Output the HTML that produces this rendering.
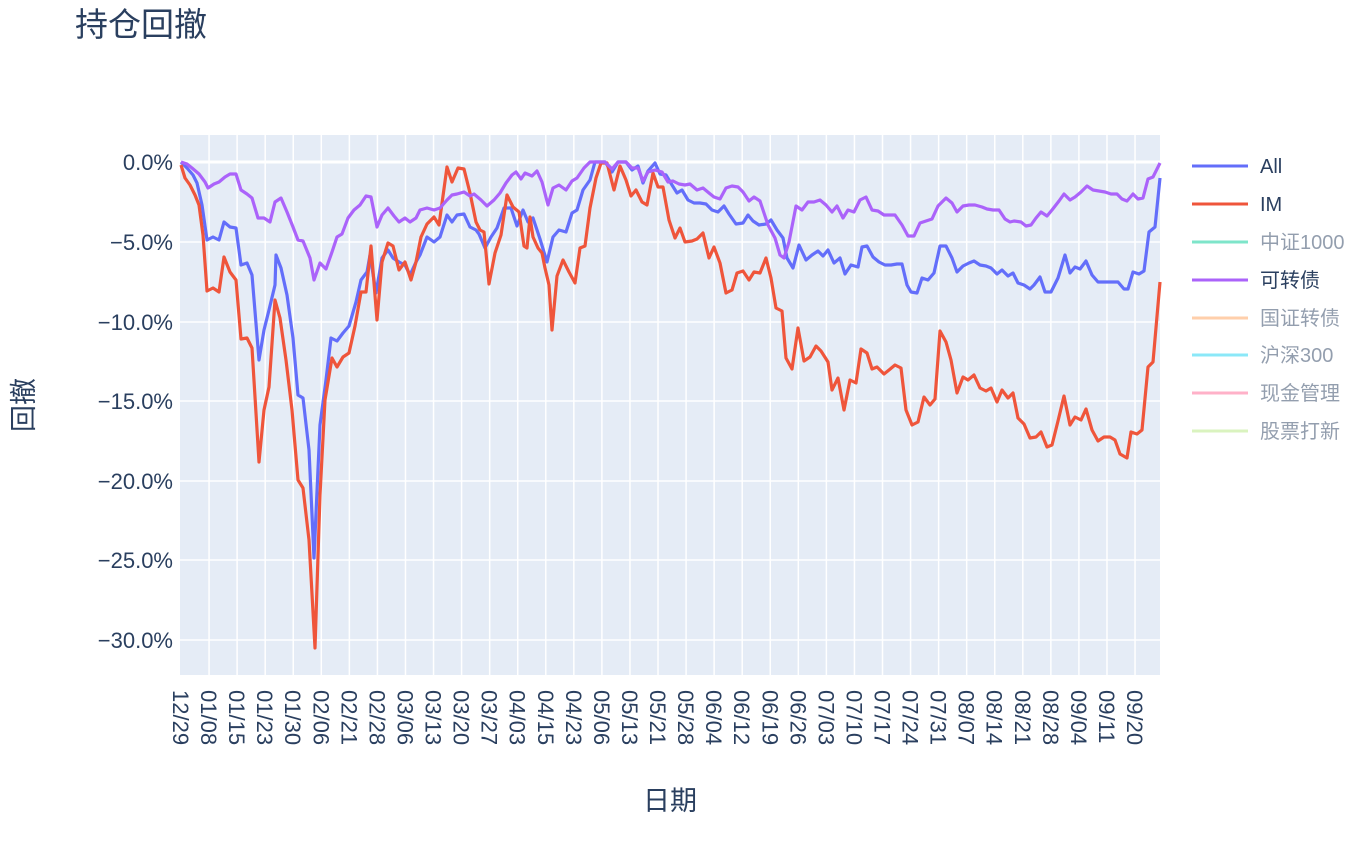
<!DOCTYPE html>
<html><head><meta charset="utf-8"><style>
html,body{margin:0;padding:0;background:#fff;}
svg{display:block;font-family:"Liberation Sans","Noto Sans CJK SC",sans-serif;}
</style></head><body>
<svg width="1372" height="848" viewBox="0 0 1372 848" xmlns="http://www.w3.org/2000/svg">
<rect width="1372" height="848" fill="#fff"/>
<rect x="180" y="135" width="980" height="540" fill="#e5ecf6"/>
<g stroke="#fff" stroke-width="1.5" id="vg"></g>
<g stroke="#fff" stroke-width="1.5">
<line x1="180" x2="1160" y1="242" y2="242"/><line x1="180" x2="1160" y1="322" y2="322"/>
<line x1="180" x2="1160" y1="401" y2="401"/><line x1="180" x2="1160" y1="481" y2="481"/>
<line x1="180" x2="1160" y1="560" y2="560"/><line x1="180" x2="1160" y1="640" y2="640"/>
</g>
<line x1="180" x2="1160" y1="162" y2="162" stroke="#fff" stroke-width="3"/>
<g id="series" fill="none" stroke-width="3.2" stroke-linejoin="round">
<polyline stroke="#636efa" points="181,162 187,168 193,175 197,183 202,205 207,240 213,237 219,240 224,222 230,227 236,228 241,265 247,263 252,275 259,360 264,330 269,310 275,285 276,255 281,268 287,295 293,338 298,395 303,398 309,450 314,558 320,425 326,380 331,338 337,341 343,333 349,326 356,302 361,280 367,272 370,255 376,293 382,258 388,250 393,258 399,262 405,265 410,275 416,262 420,255 427,237 434,242 440,237 447,215 452,222 457,215 464,214 470,227 476,230 479,234 485,248 491,237 497,228 504,208 511,208 517,226 523,210 528,222 533,218 540,239 547,262 553,237 559,230 566,232 572,213 577,210 583,190 590,180 595,162 605,162 612,172 618,162 626,162 632,170 638,166 643,183 648,171 655,163 660,174 666,175 672,185 677,193 682,190 688,200 694,203 700,203 706,204 712,210 718,212 724,206 729,214 736,224 743,223 748,215 753,221 759,225 766,224 771,220 777,230 783,238 787,258 793,268 799,245 806,260 812,255 818,251 823,256 828,250 834,263 840,258 845,274 851,265 858,267 862,247 867,246 873,257 879,262 885,265 891,265 897,264 902,264 907,285 911,292 917,293 922,278 928,280 934,273 940,246 946,246 952,258 957,272 963,266 969,263 974,261 980,265 986,266 991,268 997,274 1002,270 1008,276 1013,273 1018,283 1024,285 1030,289 1034,285 1040,277 1045,292 1051,292 1058,278 1065,255 1070,273 1075,267 1080,269 1086,261 1092,275 1098,282 1104,282 1112,282 1118,282 1124,289 1128,289 1133,272 1139,274 1144,271 1149,232 1155,227 1160,178"/>
<polyline stroke="#EF553B" points="181,165 185,178 190,185 195,195 199,205 203,235 207,291 213,288 219,292 224,257 230,272 236,280 241,339 247,338 252,348 259,462 264,410 269,387 275,300 280,318 286,360 292,410 298,480 303,488 309,540 315,648 320,495 325,400 332,358 337,367 343,357 349,353 355,326 361,292 366,292 371,246 377,320 382,262 388,243 393,246 399,270 405,262 411,280 416,262 421,237 427,224 434,217 439,225 447,167 452,182 458,168 464,169 470,193 476,222 480,230 484,232 489,284 495,253 501,235 507,195 513,207 519,212 524,246 527,248 530,217 533,237 538,248 542,253 545,268 549,285 552,330 557,276 563,260 569,272 575,283 580,248 585,246 590,208 596,178 601,163 607,163 614,190 620,166 626,180 631,196 636,190 642,202 647,205 653,173 658,187 663,187 669,220 675,238 680,228 685,242 692,241 697,239 703,233 709,258 714,247 720,263 726,293 732,290 737,273 743,271 749,280 754,272 760,273 766,258 771,278 776,308 782,311 786,358 792,369 798,328 804,361 810,357 816,346 821,351 828,362 832,390 838,378 844,410 850,380 856,383 861,349 867,353 872,369 877,367 884,374 889,370 895,365 901,368 906,410 912,425 918,422 924,397 930,405 935,399 940,331 946,342 951,360 957,393 963,377 968,380 974,375 980,388 986,391 991,388 997,402 1002,390 1008,398 1013,393 1018,418 1024,424 1030,438 1036,437 1041,432 1047,447 1052,445 1058,421 1064,396 1070,425 1075,417 1081,420 1086,409 1092,430 1098,441 1104,437 1110,437 1115,440 1120,454 1127,458 1131,432 1137,434 1142,430 1148,367 1153,362 1160,282"/>
<polyline stroke="#ab63fa" points="181,162 187,164 192,168 199,174 205,182 208,188 214,184 219,182 225,177 230,174 236,174 241,190 247,194 252,198 258,218 264,218 270,222 275,202 281,198 287,212 293,227 298,240 303,241 310,258 314,280 320,263 326,269 332,252 337,237 342,234 348,218 354,210 360,205 366,196 371,197 377,227 382,215 388,208 394,216 399,222 405,218 410,222 416,218 420,210 427,208 434,210 440,208 447,200 452,195 457,194 464,192 470,196 474,194 481,200 487,206 494,200 500,193 506,183 512,175 516,172 521,179 525,173 532,176 537,171 542,182 548,205 553,188 559,185 566,190 572,181 577,178 584,168 590,162 605,162 612,169 618,162 626,162 632,168 638,168 643,181 648,172 655,170 662,172 668,182 673,181 679,184 685,185 690,184 697,190 703,188 709,193 714,197 720,199 726,188 732,186 738,187 743,192 749,201 754,197 760,201 768,225 775,238 780,255 784,258 789,242 796,206 802,210 808,202 814,202 820,200 826,205 832,212 837,206 843,218 848,210 854,212 860,200 866,197 872,210 878,211 884,215 890,215 895,215 902,225 908,236 914,236 920,223 926,221 932,219 938,206 946,198 952,203 957,212 963,206 969,205 975,205 982,207 987,209 993,210 999,210 1005,219 1010,222 1014,221 1021,222 1026,226 1031,225 1036,218 1041,212 1047,216 1052,210 1059,201 1064,194 1070,200 1075,197 1081,192 1087,186 1093,190 1099,191 1105,192 1111,194 1117,194 1122,199 1127,201 1133,194 1138,199 1143,198 1148,179 1153,177 1160,163"/>
</g>
<g fill="#2a3f5f" font-size="22" text-anchor="end">
<text x="173" y="170">0.0%</text><text x="173" y="250">−5.0%</text>
<text x="173" y="330">−10.0%</text><text x="173" y="409">−15.0%</text>
<text x="173" y="489">−20.0%</text><text x="173" y="568">−25.0%</text>
<text x="173" y="648">−30.0%</text>
</g>
<g id="xt" fill="#2a3f5f" font-size="22"></g>
<text x="75" y="36" font-size="33" fill="#2a3f5f">持仓回撤</text>
<text x="670" y="810" font-size="27" fill="#2a3f5f" text-anchor="middle">日期</text>
<text transform="translate(33,405) rotate(-90)" font-size="27" fill="#2a3f5f" text-anchor="middle">回撤</text>
<g font-size="20" stroke-width="3">
<line x1="1192" x2="1248" y1="166" y2="166" stroke="#636efa"/><text x="1260" y="173" fill="#2a3f5f">All</text>
<line x1="1192" x2="1248" y1="204" y2="204" stroke="#EF553B"/><text x="1260" y="211" fill="#2a3f5f">IM</text>
<g opacity="0.5">
<line x1="1192" x2="1248" y1="242" y2="242" stroke="#00cc96"/><text x="1260" y="249" fill="#2a3f5f">中证1000</text>
</g>
<line x1="1192" x2="1248" y1="280" y2="280" stroke="#ab63fa"/><text x="1260" y="287" fill="#2a3f5f">可转债</text>
<g opacity="0.5">
<line x1="1192" x2="1248" y1="318" y2="318" stroke="#FFA15A"/><text x="1260" y="325" fill="#2a3f5f">国证转债</text>
<line x1="1192" x2="1248" y1="355" y2="355" stroke="#19d3f3"/><text x="1260" y="362" fill="#2a3f5f">沪深300</text>
<line x1="1192" x2="1248" y1="393" y2="393" stroke="#FF6692"/><text x="1260" y="400" fill="#2a3f5f">现金管理</text>
<line x1="1192" x2="1248" y1="431" y2="431" stroke="#B6E880"/><text x="1260" y="438" fill="#2a3f5f">股票打新</text>
</g>
</g>
<script>
var L="12/29,01/08,01/15,01/23,01/30,02/06,02/21,02/28,03/06,03/13,03/20,03/27,04/03,04/15,04/23,05/06,05/13,05/21,05/28,06/04,06/12,06/19,06/26,07/03,07/10,07/17,07/24,07/31,08/07,08/14,08/21,08/28,09/04,09/11,09/20".split(",");
var ns="http://www.w3.org/2000/svg",vg=document.getElementById("vg"),xt=document.getElementById("xt");
L.forEach(function(s,i){var x=181+i*28.06;
if(i>0){var l=document.createElementNS(ns,"line");l.setAttribute("x1",x);l.setAttribute("x2",x);l.setAttribute("y1",135);l.setAttribute("y2",675);vg.appendChild(l);}
var t=document.createElementNS(ns,"text");t.setAttribute("transform","translate("+(x-8)+",690) rotate(90)");t.textContent=s;xt.appendChild(t);});
</script>
</svg>
</body></html>
